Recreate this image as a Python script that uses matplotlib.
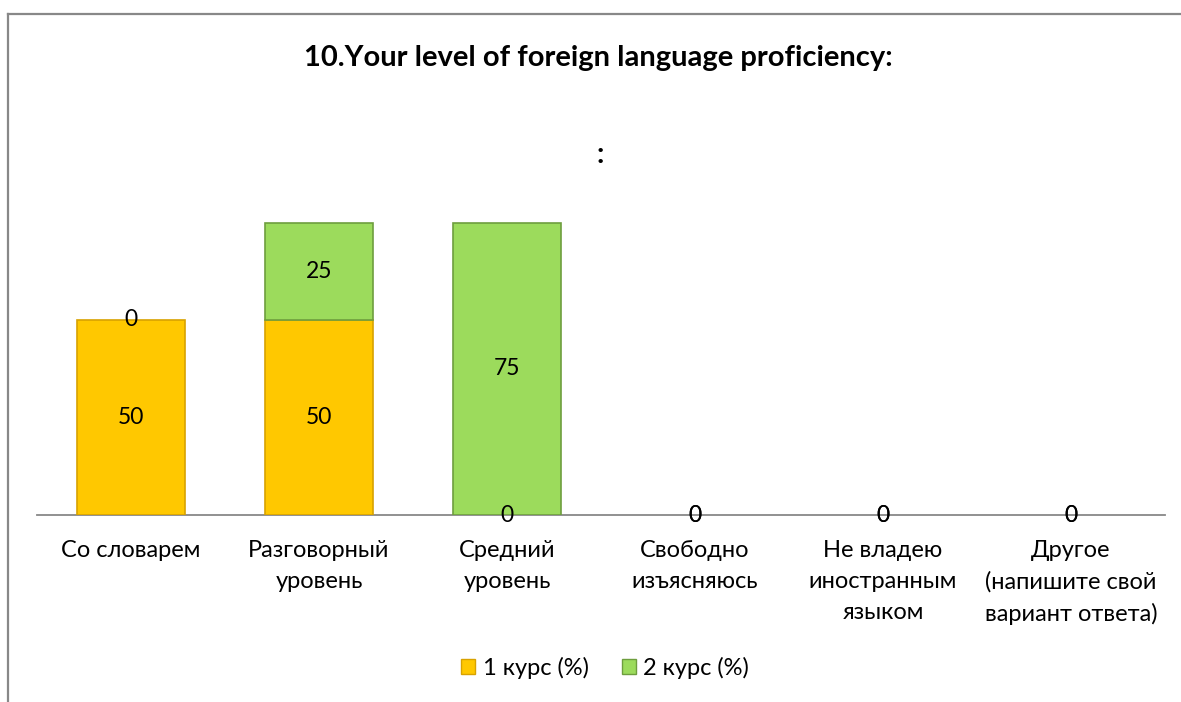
import matplotlib
matplotlib.use("Agg")
import matplotlib.pyplot as plt
from matplotlib.lines import Line2D
from matplotlib.patches import Patch
import numpy as np

categories = ["Со словарем", "Разговорный\nуровень", "Средний\nуровень",
              "Свободно\nизъясняюсь", "Не владею\nиностранным\nязыком",
              "Другое\n(напишите свой\nвариант ответа)"]
course1 = [50, 50, 0, 0, 0, 0]
course2 = [0, 25, 75, 0, 0, 0]
series_names = ["1 курс (%)", "2 курс (%)"]
title = "10.Your level of foreign language proficiency:"

plt.rcParams['font.family'] = ['Lato', 'DejaVu Sans']

fig = plt.figure(figsize=(11.81, 7.02), dpi=100)
ax = fig.add_axes([37/1181, 1-515/702, (1165-37)/1181, 390/702])

x = np.arange(len(categories))
w = 0.575
c1 = "#FFC800"
c2 = "#9CDB5C"
lw1 = [1.2 if v else 0 for v in course1]
lw2 = [1.2 if v else 0 for v in course2]
b1 = ax.bar(x, course1, w, color=c1, edgecolor="#D8A200", linewidth=lw1, zorder=2)
b2 = ax.bar(x, course2, w, bottom=course1, color=c2, edgecolor="#6E9E3E", linewidth=lw2, zorder=2)

ax.bar_label(b1, label_type='center', fontsize=16.5, zorder=5)
ax.bar_label(b2, label_type='center', fontsize=16.5, zorder=5)

ax.set_xlim(-0.5, len(categories) - 0.5)
ax.set_ylim(0, 100)
ax.set_yticks([])
ax.set_xticks(x)
ax.set_xticklabels(categories, fontsize=17, linespacing=1.58)
ax.tick_params(axis='x', length=0, pad=18)
for s in ["top", "right", "left"]:
    ax.spines[s].set_visible(False)
ax.spines["bottom"].set_color("#888888")
ax.spines["bottom"].set_linewidth(1.3)
ax.spines["bottom"].set_zorder(1)

fig.text(598/1181, 1-58/702, title, ha='center', va='center',
         fontsize=21, fontweight='bold')
fig.text(600/1181, 1-155/702, ":", ha='center', va='center',
         fontsize=21, fontweight='bold')

handles = [Patch(facecolor=c1, edgecolor="#D8A200"), Patch(facecolor=c2, edgecolor="#6E9E3E")]
fig.legend(handles, series_names, loc='center', bbox_to_anchor=(605/1181, 1-668/702),
           ncol=2, frameon=False, fontsize=17, handlelength=0.6, handleheight=0.6,
           handletextpad=0.3, columnspacing=1.4)

fig.add_artist(Line2D([8/1181, 8/1181], [0, 1-14/702], transform=fig.transFigure,
                      color="#888888", linewidth=1.6))
fig.add_artist(Line2D([8/1181, 1.0], [1-14/702, 1-14/702], transform=fig.transFigure,
                      color="#888888", linewidth=1.6))

fig.savefig("out.png", dpi=100)
